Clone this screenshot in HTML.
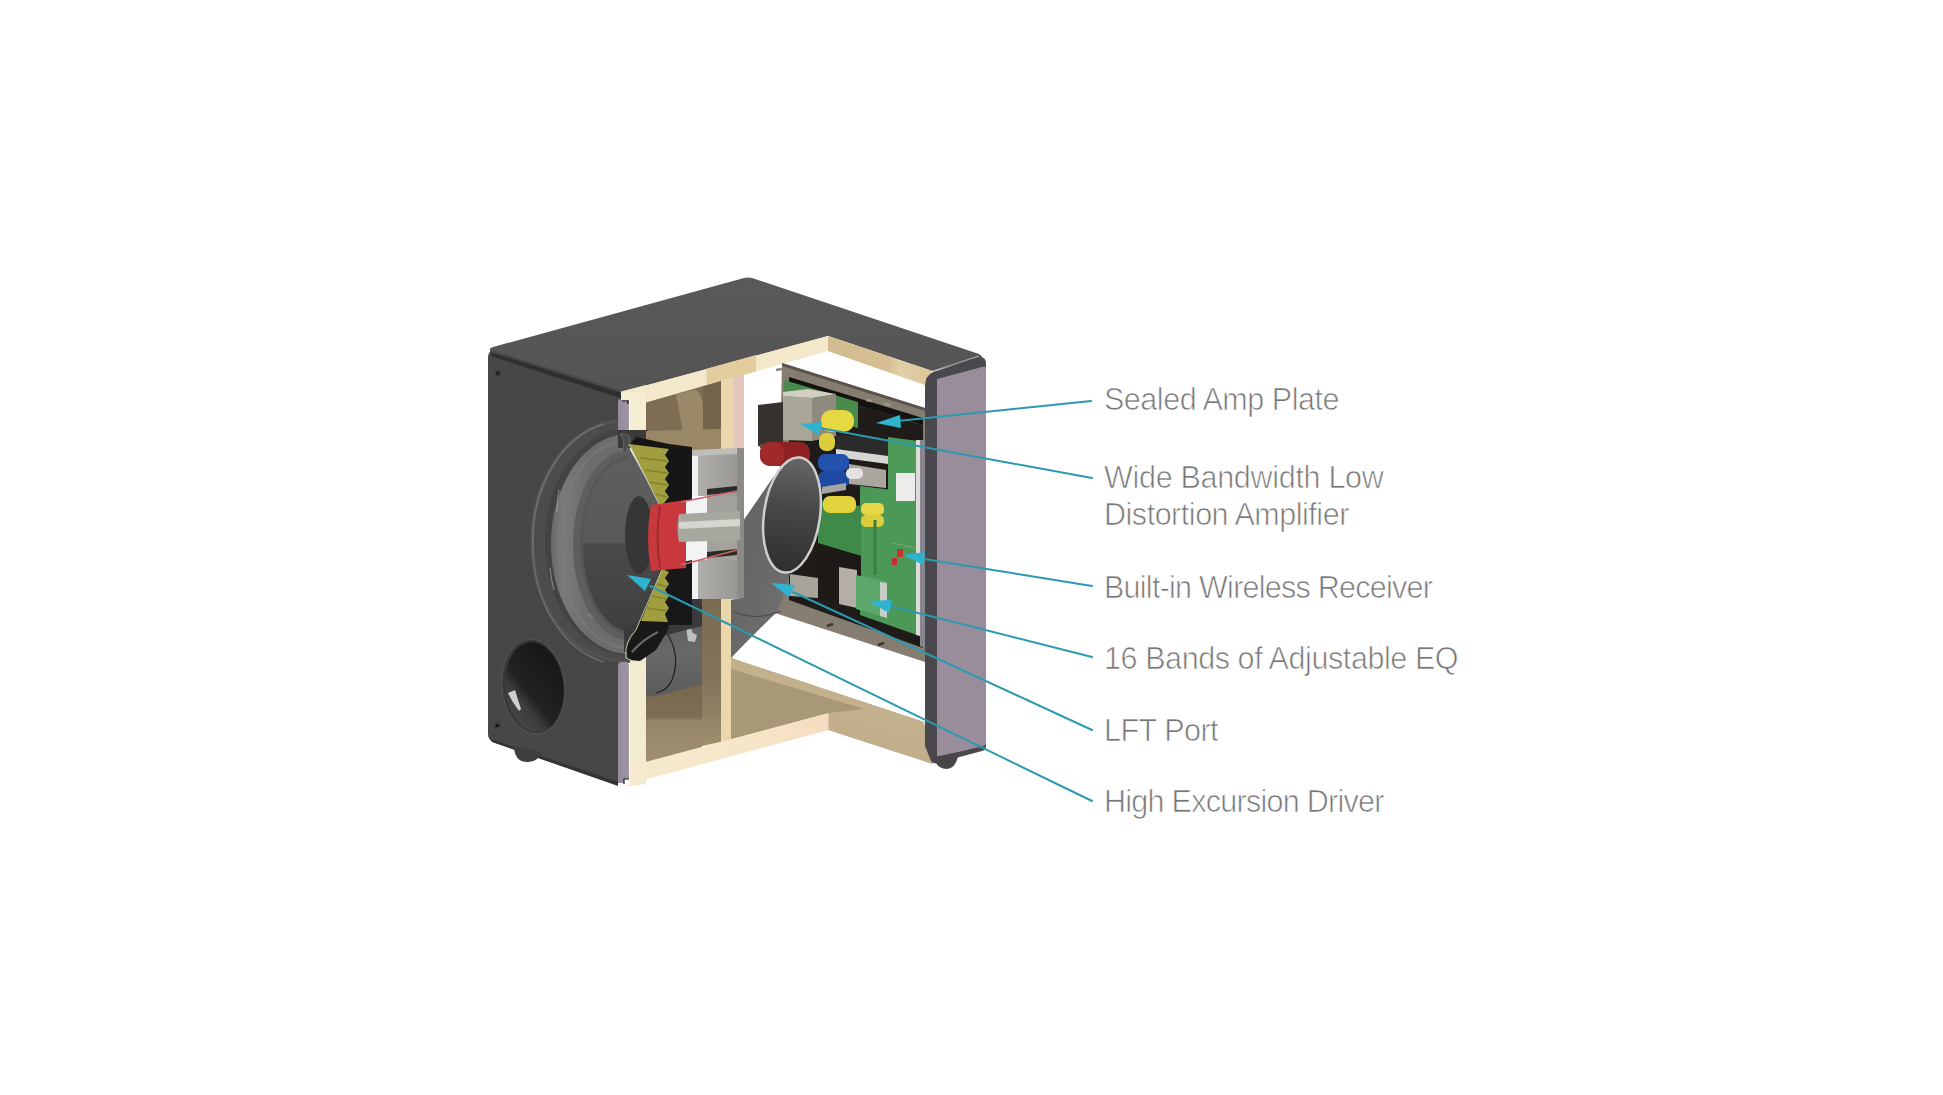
<!DOCTYPE html>
<html><head><meta charset="utf-8"><style>
html,body{margin:0;padding:0;background:#fff;width:1943px;height:1095px;overflow:hidden}
svg{display:block}
</style></head><body>
<svg width="1943" height="1095" viewBox="0 0 1943 1095">
<defs>
<linearGradient id="gTop" x1="0" y1="0" x2="0" y2="1"><stop offset="0" stop-color="#595959"/><stop offset="1" stop-color="#545454"/></linearGradient>
<linearGradient id="gFront" x1="0" y1="0" x2="1" y2="0"><stop offset="0" stop-color="#474746"/><stop offset="1" stop-color="#464645"/></linearGradient>
<linearGradient id="gPurple" x1="0" y1="0" x2="1" y2="0"><stop offset="0" stop-color="#958c9c"/><stop offset="1" stop-color="#9d94a4"/></linearGradient>
<linearGradient id="gCone" gradientUnits="userSpaceOnUse" x1="0" y1="459" x2="0" y2="631"><stop offset="0" stop-color="#5e5e5e"/><stop offset="0.48" stop-color="#5a5a5a"/><stop offset="0.5" stop-color="#4a4a4a"/><stop offset="1" stop-color="#3f3f3f"/></linearGradient>
<linearGradient id="gSurr" gradientUnits="userSpaceOnUse" x1="551" y1="0" x2="590" y2="0"><stop offset="0" stop-color="#6a6a6a"/><stop offset="0.3" stop-color="#7a7a7a"/><stop offset="1" stop-color="#6c6c6c"/></linearGradient>
<linearGradient id="gPortIn" x1="0" y1="0" x2="0" y2="1"><stop offset="0" stop-color="#666"/><stop offset="0.45" stop-color="#474747"/><stop offset="1" stop-color="#2e2e2e"/></linearGradient>
<linearGradient id="gTube" x1="0" y1="0" x2="1" y2="1"><stop offset="0" stop-color="#606060"/><stop offset="0.6" stop-color="#6a6a6a"/><stop offset="1" stop-color="#727272"/></linearGradient>
<linearGradient id="gMag" x1="0" y1="0" x2="1" y2="0"><stop offset="0" stop-color="#b4b2b0"/><stop offset="1" stop-color="#9a9894"/></linearGradient>
<linearGradient id="gHole" x1="0" y1="1" x2="0.8" y2="0.2"><stop offset="0" stop-color="#4e4e4e"/><stop offset="0.38" stop-color="#3c3c3c"/><stop offset="0.52" stop-color="#222"/><stop offset="1" stop-color="#181818"/></linearGradient>
<linearGradient id="gCav" gradientUnits="userSpaceOnUse" x1="0" y1="680" x2="0" y2="762"><stop offset="0" stop-color="#76664d"/><stop offset="0.45" stop-color="#7e6e54"/><stop offset="0.5" stop-color="#958467"/><stop offset="1" stop-color="#a08f6f"/></linearGradient>
<linearGradient id="gStrip" gradientUnits="userSpaceOnUse" x1="630" y1="0" x2="830" y2="0"><stop offset="0" stop-color="#f5eace"/><stop offset="0.6" stop-color="#f6e6c8"/><stop offset="1" stop-color="#f6dcc0"/></linearGradient>
<linearGradient id="gTube2" x1="0" y1="0" x2="0" y2="1"><stop offset="0" stop-color="#5a5a5a"/><stop offset="0.5" stop-color="#686868"/><stop offset="1" stop-color="#5c5c5c"/></linearGradient>
<linearGradient id="gBraceL" gradientUnits="userSpaceOnUse" x1="0" y1="594" x2="0" y2="746"><stop offset="0" stop-color="#7a6a52"/><stop offset="0.6" stop-color="#85745a"/><stop offset="1" stop-color="#a08e6e"/></linearGradient>
<linearGradient id="gTopR" gradientUnits="userSpaceOnUse" x1="828" y1="0" x2="930" y2="0"><stop offset="0" stop-color="#d2bb8e"/><stop offset="0.6" stop-color="#d6c093"/><stop offset="0.7" stop-color="#e2cfa6"/><stop offset="1" stop-color="#dcc79c"/></linearGradient>
<clipPath id="cFront"><path d="M488,358 Q488,350 496,352 L618,392 L618,430 L630,430 L630,664 L618,664 L618,782 L494,740 Q488,738 488,734 Z"/></clipPath>
</defs>

<!-- ===== FRONT FACE BASE ===== -->
<path d="M488,358 Q488,349 496,350 L622,390 L618,786 L494,742.5 Q488,740 488,734 Z" fill="url(#gFront)"/>
<path d="M490,739 Q491,742 495,743 L618,785.5 L618,782 L494,740 Z" fill="#333"/>
<!-- ===== BOX TOP SURFACE ===== -->
<path d="M490,350 Q489,348 493,347 L744,278 Q748,277 752,278 L979,354 Q984,357 981,359 L932,371 L828,336 L622,392 Z" fill="url(#gTop)"/>
<path d="M933,371 L979,356" stroke="#a8a8a8" stroke-width="1.2"/>
<!-- front top bevel -->
<path d="M490,350 L622,391 L622,398.5 L492,356.5 Z" fill="#2f2f2f"/>
<path d="M490,350 L622,391 L622,393 L490,352 Z" fill="#4a4a4a"/>
<!-- ===== FRONT FACE ===== -->
<g clip-path="url(#cFront)">
  <rect x="612" y="425" width="24" height="237" fill="#3e3e3e"/>
  <!-- speaker recess -->
  <ellipse cx="624" cy="541" rx="94" ry="122" fill="#525252"/>
  <ellipse cx="625" cy="541" rx="91" ry="119" fill="#4c4c4c"/>
  <path d="M533,545 A91,119 0 0 1 604,424" fill="none" stroke="#6e6e6e" stroke-width="1.8"/>
  <path d="M533,545 A91,119 0 0 0 604,662" fill="none" stroke="#6a6a6a" stroke-width="1.8"/>
  <ellipse cx="627" cy="542" rx="82" ry="113" fill="#434343"/>
  <!-- surround roll -->
  <ellipse cx="629" cy="544" rx="78" ry="110" fill="url(#gSurr)"/>
  <ellipse cx="629" cy="544" rx="70" ry="104" fill="none" stroke="#7c7c7c" stroke-width="3" opacity="0.55"/>
  <path d="M557,512 Q557,500 559,490" stroke="#a0a0a0" stroke-width="1.3" fill="none" opacity="0.6"/>
  <path d="M550,568 Q551,580 554,590" stroke="#a8a8a8" stroke-width="1.3" fill="none" opacity="0.6"/>
  <path d="M588,614 Q594,619 600,622" stroke="#a0a0a0" stroke-width="1.3" fill="none" opacity="0.5"/>
  <ellipse cx="629" cy="545" rx="56" ry="95" fill="#5e5e5e"/>
  <ellipse cx="629" cy="545" rx="49" ry="89" fill="#575757"/>
  <!-- port hole -->
  <ellipse cx="533.5" cy="686.5" rx="31.5" ry="47.5" transform="rotate(-6 533.5 686.5)" fill="#383838" stroke="#525252" stroke-width="1.2"/>
  <ellipse cx="534.5" cy="687" rx="29" ry="45" transform="rotate(-6 534.5 687)" fill="url(#gHole)"/>
  <path d="M508,693 L515,690 Q518,700 521,709 L519,711 Q512,702 508,693 Z" fill="#cfcfcf"/>
  <!-- screws -->
  <circle cx="498" cy="373" r="3.2" fill="#3a3a3a"/><circle cx="497.8" cy="373" r="1.6" fill="#111"/>
  <circle cx="497.5" cy="725.5" r="3.2" fill="#3a3a3a"/><circle cx="497.3" cy="725.5" r="1.6" fill="#111"/>
</g>
<!-- cone (visible through opening, extends to cut profile) -->
<path d="M629,459 A46,86 0 0 0 629,631 L636,630 L662,569 L652,540 L662,508 L627,444 Z" fill="url(#gCone)"/>
<ellipse cx="639" cy="535" rx="14" ry="39" fill="#363636"/>
<!-- foot -->
<path d="M514,747 Q515,762 527,762 Q539,762 540.5,751.5 Z" fill="#3e3e3e"/>

<!-- ===== FRONT BAFFLE CUT ===== -->
<path d="M618,399.5 L629,399.5 L629,430 Q629,434 625,434 L621,434 Q618,434 618,430 Z" fill="url(#gPurple)"/>
<path d="M622,401 L628,401 L628,404" stroke="#1a1a1a" stroke-width="1.2" fill="none"/>
<path d="M618,666 Q618,662 622,662 L625,662 Q629,662 629,666 L629,779 L624,779 L624,783 L618,783 Z" fill="url(#gPurple)"/>
<path d="M629,779 L624,779 L624,784" stroke="#1a1a1a" stroke-width="1.2" fill="none"/>
<path d="M621,391.5 L646,385 L646,431 L630,433 L630,400 L621,400 Z" fill="#f6eed2"/>
<path d="M630,659 L646,656 L646,784 L630,786 Z" fill="#f3ebcf"/>

<!-- ===== TOP WOOD CUT ===== -->
<path d="M622,392 L828,336 L932,371 L925,385 L828,351 L646,403 L646,392 Z" fill="#f3e8ca"/>
<path d="M706.5,368.8 L756,355 L756,371.5 L706.5,384.8 Z" fill="#e3cc9e"/>
<path d="M828,336 L932,371 L925,385 L828,351 Z" fill="url(#gTopR)"/>
<!-- cavity behind front baffle (upper) -->
<path d="M646,402.5 L721,381 L721,450 L646,450 Z" fill="#7e6d53"/>
<path d="M676,394.5 L694,389.5 Q703,392 703,410 L703,450 L686,450 Q682,425 676,394.5 Z" fill="#9a8869"/>
<path d="M703,386.5 L721,381 L721,450 L703,450 Z" fill="#73634b"/>
<!-- brace -->
<path d="M721,381 L733,377.5 L733,742 L721,742 Z" fill="#ead7ac"/>
<path d="M733,377.5 L744,374.5 L744,600 L733,600 Z" fill="#e6c7be"/>
<path d="M702,594 L721,594 L721,742 L702,746 Z" fill="url(#gBraceL)"/>

<!-- ===== FLOOR / BOTTOM WOOD ===== -->
<path d="M731,658 L924,722 L933,764 L828.5,730 L731,740 Z" fill="#c0ad8a"/>
<path d="M731,658 L924,722 L924,740 L828.5,713 L731,669 Z" fill="#c3b08c"/>
<path d="M731,669 L864,709 L828.5,713 L731,740 Z" fill="#a89877"/>
<path d="M828.5,713 L924,740 L933,764 L828.5,730 Z" fill="#c2ae8a"/>
<path d="M646,680 L702,672 L702,748 L646,763 Z" fill="url(#gCav)"/>
<path d="M622,786 L828.5,730 L828.5,713 L645.5,762 L630,762 L630,786 Z" fill="url(#gStrip)"/>
<!-- ===== RIGHT PANEL ===== -->
<path d="M925,386 Q925,376 933,372 L980,357 Q986,357 986,364 L986,746 Q986,750 982,751 L937,763 Q933,764 931,761 L925,746 Z" fill="#4a474d"/>
<path d="M937,379 L984,366.5 Q986,366 986,369 L986,743 Q986,745.5 983,746 L937,757.5 Z" fill="#998d9b"/>
<path d="M934,757 Q936,769 947,769 Q957,768 958.5,752 Z" fill="#484548"/>

<!-- ===== AMP PLATE ===== -->
<path d="M782,363 L925,408 L925,662 L775,613 L777,598 Z" fill="#857d70"/>
<path d="M782,363 L925,408 L925,411 L782,366 Z" fill="#5a544c"/>
<path d="M789,377 L923,418 L923,425 L789,385 Z" fill="#141210"/>
<path d="M789,385 L923,425 L923,648 L789,600 Z" fill="#1e1b18"/>
<!-- pins -->
<path d="M866,400 L872,401" stroke="#9a968e" stroke-width="2.5"/>
<path d="M884,404 L891,405" stroke="#9a968e" stroke-width="2.5"/>
<path d="M776,370 L782,369" stroke="#8a8680" stroke-width="2.5"/>
<!-- green small board (top) -->
<path d="M784,380 L858,402 L858,428 L784,408 Z" fill="#4a8a4c"/>
<!-- transformer box -->
<path d="M783,396 L812,398 L812,441 L783,440 Z" fill="#a9a597"/>
<path d="M783,392 L808,389 L836,394 L812,398 L783,396 Z" fill="#d2cec2"/>
<path d="M812,398 L836,394 L836,436 L812,441 Z" fill="#8e8a7e"/>
<!-- black bracket -->
<path d="M758,405 L783,402 L783,446 L772,449 L758,446 Z" fill="#35322e"/>
<path d="M760,444 L800,452 L800,456 L760,448 Z" fill="#5a5650"/>
<!-- red caps -->
<rect x="760" y="442" width="50" height="24" rx="10" fill="#8e2222"/>
<rect x="760" y="442" width="24" height="24" rx="10" fill="#a02a2a"/>
<!-- yellow caps -->
<rect x="821" y="410" width="33" height="22" rx="10" fill="#e6d843"/>
<rect x="819" y="433" width="16" height="18" rx="7" fill="#dccd3c"/>
<!-- IC heatsink row -->
<path d="M836,434 L888,440 L888,458 L836,451 Z" fill="#2b2b2b"/>
<path d="M836,449 L888,456 L888,464 L836,457 Z" fill="#d6d6d2"/>
<!-- green boards -->
<path d="M888,437 L918,441 L918,500 L888,496 Z" fill="#4e9a58"/>
<path d="M860,486 L917,493 L917,635 L860,615 Z" fill="#4c9857"/>
<path d="M818,500 L861,506 L861,556 L818,544 Z" fill="#3f8a48"/>
<path d="M916,440 L920,440 L920,636 L916,635 Z" fill="#dcdcd4"/>
<path d="M920,440 L925,440 L925,648 L920,646 Z" fill="#8a8690"/>
<!-- blue caps -->
<rect x="818" y="454" width="31" height="17" rx="7" fill="#2352ae"/>
<rect x="818" y="471" width="31" height="17" rx="7" fill="#1f4aa4"/>
<!-- gray block + connectors -->
<path d="M849,464 L886,470 L886,488 L849,484 Z" fill="#aaa69e"/>
<rect x="846" y="468" width="17" height="11" rx="5" fill="#e2e2e0"/>
<rect x="896" y="473" width="19" height="28" fill="#ececea"/>
<path d="M822,487 L846,483 L846,490 L822,494 Z" fill="#a4a4a0"/>
<!-- yellow small caps -->
<rect x="823" y="496" width="33" height="17" rx="7" fill="#e2d33e"/>
<rect x="861" y="503" width="23" height="12" rx="5" fill="#e6d845"/>
<rect x="861" y="515" width="23" height="12" rx="5" fill="#dccd3c"/>
<!-- lower left dark region with connectors -->
<path d="M818,543 L861,556 L861,606 L818,598 Z" fill="#1c1916"/>
<path d="M790,574 L818,578 L818,598 L790,596 Z" fill="#a8a49c"/>
<path d="M839,567 L857,570 L857,608 L839,604 Z" fill="#b4aea6"/>
<path d="M856,575 L885,581 L885,617 L856,609 Z" fill="#5ca86a"/>
<path d="M880,582 L887,583 L887,618 L880,616 Z" fill="#c8ccc4"/>
<!-- traces -->
<path d="M875,520 L875,575" stroke="#3a7e44" stroke-width="3"/>
<path d="M893,543 L915,548" stroke="#7ab884" stroke-width="0.8"/>
<!-- LEDs -->
<rect x="897" y="549" width="6" height="8" fill="#c83030"/>
<rect x="892" y="558" width="5" height="7" fill="#c03030"/>
<!-- bottom screws -->
<path d="M827,626 L833,624" stroke="#3a3632" stroke-width="2.5"/>
<path d="M878,645 L884,643" stroke="#3a3632" stroke-width="2.5"/>

<!-- ===== PORT TUBE ===== -->
<path d="M774,476 L741,524 L741,598 L731,600 L731,658 Q752,636 777,612 L783,598 L790,572 Z" fill="url(#gTube)"/>
<path d="M733,611 Q756,622 781,611" stroke="#4c4c4c" stroke-width="1.2" fill="none"/>
<ellipse cx="792" cy="515" rx="28" ry="58" transform="rotate(8 792 515)" fill="url(#gPortIn)" stroke="#cfcfcf" stroke-width="2.5"/>
<!-- tube in left lower cavity -->
<path d="M646,626 L702,606 L702,684 Q680,690 662,695 L646,697 Z" fill="url(#gTube2)"/>
<path d="M665,630 Q682,655 672,680 Q668,690 656,693" stroke="#1e1e1e" stroke-width="1.2" fill="none"/>
<path d="M686,627 L690,626 L693,633 L697,635 L695,642 L688,641 Z" fill="#cfcfcf" opacity="0.85"/>

<!-- ===== DRIVER CROSS SECTION ===== -->
<!-- dark area below magnet / basket -->
<path d="M646,598 L702,598 L702,626 L646,640 Z" fill="#3a3a3a"/>
<path d="M618,430 L648,430 L648,448 L618,448 Z" fill="#3a3a3a"/>
<!-- tan cavity above magnet -->
<path d="M646,431 L721,429 L721,450 L692,450 L669,447 L646,440 Z" fill="#9a8765"/>
<!-- basket top (black) -->
<path d="M636,437 L669,444 L692,447 L692,502 L662,506 L662,450 L629,446 Z" fill="#161616"/>
<!-- spider top -->
<path d="M629,444 L669,449 L665,455 L669,461 L665,467 L669,473 L665,479 L669,485 L665,491 L669,497 L664,503 L661,508 Z" fill="#a09e3e"/>
<g stroke="#7e7c2a" stroke-width="1.6" fill="none" opacity="0.8"><path d="M640,458 L667,461"/><path d="M645,470 L667,473"/><path d="M650,482 L667,485"/><path d="M655,494 L667,497"/></g>
<path d="M629,444 L661,508" stroke="#c8c8b0" stroke-width="1" fill="none"/>
<!-- surround bulge top -->
<path d="M620,434 Q631,433 630,440 Q628,447 626,452 L622,452 Q625,445 623,439 Z" fill="#4a4a4a" stroke="#7a7a7a" stroke-width="0.7"/>
<path d="M624,626 L642,624 L642,652 L624,652 Z" fill="#3a3a3a"/>
<!-- basket bottom -->
<path d="M662,566 L692,560 L692,600 L670,612 L668,630 L656,650 L640,661 L628,660 L626,648 L636,630 Z" fill="#181818"/>
<path d="M660,568 L692,566 L692,625 L660,625 Z" fill="#181818"/>
<path d="M632,652 Q642,640 658,632" stroke="#666" stroke-width="2.5" fill="none"/>
<!-- spider bottom -->
<path d="M662,569 L669,572 L665,578 L669,584 L665,590 L669,596 L665,602 L669,608 L665,614 L668,622 L641,621 Z" fill="#a09e3e"/>
<g stroke="#7e7c2a" stroke-width="1.6" fill="none" opacity="0.8"><path d="M657,584 L667,587"/><path d="M652,596 L667,599"/><path d="M647,608 L667,611"/></g>
<path d="M662,569 L636,630 Q624,642 626,658 L633,661" stroke="#c8c8b0" stroke-width="1" fill="none"/>
<!-- magnet -->
<rect x="692" y="450" width="45" height="46" fill="url(#gMag)"/>
<rect x="692" y="450" width="6" height="46" fill="#f2f2f2"/>
<rect x="692" y="560" width="45" height="39" fill="url(#gMag)"/>
<rect x="692" y="560" width="6" height="39" fill="#f2f2f2"/>
<rect x="737" y="448" width="7" height="150" fill="#8c8a86"/>
<!-- voice coil -->
<path d="M651,505 L686,500 L686,568 L651,571 Q645,538 651,505 Z" fill="#c8383c"/>
<path d="M660,506 Q655,538 660,568" stroke="#a02a2e" stroke-width="2" fill="none"/>
<rect x="686" y="500" width="21" height="20" fill="#f4f4f4"/>
<rect x="686" y="540" width="21" height="20" fill="#f4f4f4"/>
<rect x="707" y="496" width="30" height="64" fill="#a4a29c"/>
<path d="M679,514 L740,511 L740,540 L679,542 Q676,528 679,514 Z" fill="#a8a8a0"/>
<path d="M679,522 L740,519 L740,526 L679,529 Z" fill="#d6d6d0"/>
<path d="M707,489 L737,486 L737,492 L707,495 Z" fill="#2a2a28"/>
<path d="M707,552 L737,549 L737,555 L707,558 Z" fill="#2a2a28"/>
<path d="M681,502 L737,491" stroke="#d0606a" stroke-width="1.6"/>
<path d="M681,565 L737,550" stroke="#d0606a" stroke-width="1.6"/>
<path d="M692,450 L737,448 L737,454 L692,456 Z" fill="#c0bebb"/>

<!-- ===== CALLOUT LINES ===== -->
<g stroke="#2b9ab1" stroke-width="2" fill="none" stroke-linecap="round">
  <line x1="898" y1="421" x2="1091" y2="401"/>
  <line x1="820" y1="428" x2="1092" y2="478"/>
  <line x1="924" y1="559" x2="1092" y2="586"/>
  <line x1="890" y1="606" x2="1092" y2="657"/>
  <line x1="793" y1="592" x2="1092" y2="730"/>
  <line x1="650" y1="586" x2="1092" y2="801"/>
</g>
<g fill="#2fb4d0">
  <polygon points="876,423 900,415 901,428"/>
  <polygon points="800,424 822,422 819,435"/>
  <polygon points="903,555 925,552 923,565"/>
  <polygon points="868,601 892,600 889,613"/>
  <polygon points="771,583 795,585 789,597"/>
  <polygon points="627,575 651,579 645,591"/>
</g>

<!-- ===== LABELS ===== -->
<g font-family="Liberation Sans, sans-serif" font-size="30.5" fill="#777777" stroke="#ffffff" stroke-width="0.7" opacity="0.999" lengthAdjust="spacingAndGlyphs">
<text x="1104" y="410" textLength="235.5">Sealed Amp Plate</text>
<text x="1104" y="488" textLength="279.8">Wide Bandwidth Low</text>
<text x="1104" y="524.5" textLength="245.3">Distortion Amplifier</text>
<text x="1104" y="597.5" textLength="329">Built-in Wireless Receiver</text>
<text x="1104" y="668.5" textLength="354.6">16 Bands of Adjustable EQ</text>
<text x="1104" y="740.5" textLength="114.6">LFT Port</text>
<text x="1104" y="811.5" textLength="280.4">High Excursion Driver</text>
</g>
</svg>
</body></html>
